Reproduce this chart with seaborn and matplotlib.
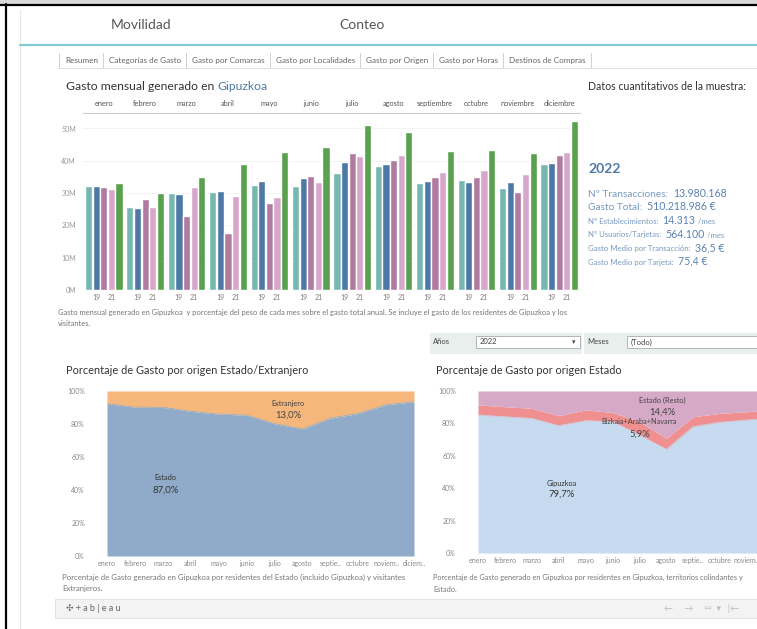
import numpy as np
import pandas as pd
import matplotlib
matplotlib.use("Agg")
import matplotlib.pyplot as plt
import seaborn as sns
from matplotlib.patches import Rectangle

# ---------------- data ----------------
months = ["enero", "febrero", "marzo", "abril", "mayo", "junio", "julio",
          "agosto", "septiembre", "octubre", "noviembre", "diciembre"]
months_short = ["enero", "febrero", "marzo", "abril", "mayo", "junio", "julio",
                "agosto", "septie..", "octubre", "noviem..", "diciem.."]
years = ["2018", "2019", "2020", "2021", "2022"]
year_ticks = {"2019": "19", "2021": "21"}

gasto_2018 = [32.2, 25.8, 30.1, 30.4, 32.5, 32.2, 36.3, 38.4, 33.2, 34.1, 31.7, 39.0]
gasto_2019 = [32.2, 25.5, 29.7, 30.6, 33.8, 34.8, 39.7, 38.9, 33.8, 33.5, 33.3, 39.2]
gasto_2020 = [31.8, 28.2, 22.9, 17.6, 26.8, 35.3, 42.3, 40.3, 35.1, 35.0, 30.4, 41.7]
gasto_2021 = [31.2, 25.6, 31.8, 29.1, 28.7, 33.3, 41.5, 41.8, 36.6, 37.2, 35.8, 42.7]
gasto_2022 = [33.0, 30.1, 35.1, 39.0, 42.6, 44.2, 51.1, 49.0, 43.1, 43.4, 42.3, 52.3]
gasto_series = [gasto_2018, gasto_2019, gasto_2020, gasto_2021, gasto_2022]

pct_estado = [92.3, 90.2, 90.1, 87.7, 86.0, 85.4, 80.2, 77.0, 83.5, 86.4, 91.7, 93.5]
pct_gipuzkoa = [85.2, 84.1, 83.1, 78.6, 81.7, 81.1, 72.8, 64.0, 78.0, 80.7, 82.1, 83.0]
pct_colindantes = [6.2, 6.2, 6.2, 6.2, 6.6, 5.7, 8.3, 6.8, 6.1, 5.5, 5.1, 5.5]

tabs = ["Resumen", "Categorías de Gasto", "Gasto por Comarcas", "Gasto por Localidades",
        "Gasto por Origen", "Gasto por Horas", "Destinos de Compras"]

# ---------------- setup ----------------
sns.set_theme(style="white")
plt.rcParams["font.family"] = ["Lato", "DejaVu Sans"]

W, H = 757, 629
fig = plt.figure(figsize=(W / 100, H / 100), dpi=100)
fig.patch.set_facecolor("white")

bg = fig.add_axes([0, 0, 1, 1])
bg.set_xlim(0, W)
bg.set_ylim(H, 0)
bg.axis("off")
bg.set_zorder(-10)


def px_axes(x0, y0, x1, y1):
    return fig.add_axes([x0 / W, 1 - y1 / H, (x1 - x0) / W, (y1 - y0) / H])


renderer = fig.canvas.get_renderer()


def pieces(x, y, parts):
    for s, size, color in parts:
        t = bg.text(x, y, s, size=size, color=color, va="baseline", ha="left")
        bb = t.get_window_extent(renderer)
        x += bb.width


# ---------------- frame / header ----------------
bg.add_patch(Rectangle((0, 0), W, 4, color="#d9d9d9", lw=0))
bg.plot([0, W], [4.5, 4.5], color="black", lw=1.6)
bg.plot([6, 6], [4, H], color="black", lw=1.6)
bg.plot([20, 20], [10, H], color="#e6e6e6", lw=0.8)
bg.text(141, 25, "Movilidad", size=10, color="#555555", ha="center", va="center")
bg.text(362, 25, "Conteo", size=10, color="#555555", ha="center", va="center")
bg.plot([20, W], [44.5, 44.5], color="#86cad6", lw=1.6)

# tabs
bg.plot([58, W], [67.5, 67.5], color="#e0e0e0", lw=0.7)
tab_x = 59
bg.plot([tab_x, tab_x], [53, 67], color="#d0d0d0", lw=0.7)
for name in tabs:
    t = bg.text(tab_x + 6, 60.5, name, size=5.9, color="#666666", va="center", ha="left")
    w = t.get_window_extent(renderer).width
    tab_x = tab_x + w + 11
    bg.plot([tab_x, tab_x], [53, 67], color="#d0d0d0", lw=0.7)

# ---------------- bar chart ----------------
bar_colors = ["#76b7b2", "#4e79a7", "#b07aa1", "#d7a7cb", "#59a14f"]
rows = []
for yr, vals in zip(years, gasto_series):
    for m, v in zip(months, vals):
        rows.append({"mes": m, "año": yr, "gasto": v})
df = pd.DataFrame(rows)

ax = px_axes(83, 113, 580, 290)
sns.barplot(data=df, x="mes", y="gasto", hue="año", order=months, hue_order=years,
            palette=bar_colors, width=0.92, gap=0.06, saturation=1, legend=False, ax=ax)
ax.set_xlim(-0.5, 11.5)
ax.set_ylim(0, 177 / 3.23)
ax.set_yticks([0, 10, 20, 30, 40, 50])
ax.set_yticklabels([f"{v}M" for v in [0, 10, 20, 30, 40, 50]])
bw = 0.92 / len(years)
tick_pos, tick_lab = [], []
for i in range(len(months)):
    for yr, lab in year_ticks.items():
        tick_pos.append(i + (years.index(yr) - 2) * bw)
        tick_lab.append(lab)
ax.set_xticks(tick_pos)
ax.set_xticklabels(tick_lab)
ax.set_xlabel("")
ax.set_ylabel("")
ax.tick_params(axis="both", length=0, labelsize=5, colors="#999999")
ax.tick_params(axis="x", colors="#887777")
ax.tick_params(axis="y", pad=5)
ax.tick_params(axis="x", pad=3)
for s in ["left", "right", "bottom"]:
    ax.spines[s].set_visible(False)
ax.spines["top"].set_color("#cccccc")
ax.spines["top"].set_linewidth(0.8)
ax.yaxis.grid(True, color="#f1f1f1", lw=0.6)
ax.set_axisbelow(True)
sec = ax.secondary_xaxis("top")
sec.set_xticks(range(len(months)))
sec.set_xticklabels(months)
sec.tick_params(length=0, labelsize=5.3, colors="#555555", pad=4)
for s in sec.spines.values():
    s.set_visible(False)

# title
t = bg.text(66, 87, "Gasto mensual generado en ", size=8.7, color="#333333", va="center")
wt = t.get_window_extent(renderer).width
bg.text(66 + wt, 87, "Gipuzkoa", size=8.7, color="#4e79a7", va="center")

bg.text(58, 312, "Gasto mensual generado en Gipuzkoa  y porcentaje del peso de cada mes sobre el gasto "
        "total anual. Se incluye el gasto de los residentes de Gipuzkoa y los",
        size=5.4, color="#777777", va="center")
bg.text(58, 323, "visitantes.", size=5.4, color="#777777", va="center")

# ---------------- stats panel ----------------
bg.text(588, 87, "Datos cuantitativos de la muestra:", size=7.6, color="#333333", va="center")
bg.text(588, 169, "2022", size=10, color="#4e79a7", va="center", weight="bold")
lab_c, val_c = "#7799c2", "#5b81b1"
pieces(588, 197, [("Nº Transacciones:  ", 7.3, lab_c), ("13.980.168", 7.6, val_c)])
pieces(588, 210.5, [("Gasto Total:  ", 7.3, lab_c), ("510.218.986 €", 7.6, val_c)])
pieces(588, 224, [("Nº Establecimientos:  ", 5.6, lab_c), ("14.313", 7.6, val_c), (" /mes", 5.6, lab_c)])
pieces(588, 237.5, [("Nº Usuarios/Tarjetas:  ", 5.6, lab_c), ("564.100", 7.6, val_c), (" /mes", 5.6, lab_c)])
pieces(588, 251, [("Gasto Medio por Transacción:  ", 5.6, lab_c), ("36,5 €", 7.6, val_c)])
pieces(588, 264.5, [("Gasto Medio por Tarjeta:  ", 5.6, lab_c), ("75,4 €", 7.6, val_c)])

# ---------------- filters ----------------
bg.add_patch(Rectangle((430, 333), 152, 21, color="#e8efec", lw=0))
bg.add_patch(Rectangle((584, 333), 173, 21, color="#e8efec", lw=0))
bg.text(433, 341, "Años", size=5.5, color="#444444", va="center")
bg.add_patch(Rectangle((476, 336), 104, 12, facecolor="white", edgecolor="#aaaaaa", lw=0.6))
bg.text(480, 342, "2022", size=5.5, color="#444444", va="center")
bg.text(574, 342, "▾", size=5, color="#444444", va="center", ha="center")
bg.text(587, 341, "Meses", size=5.5, color="#444444", va="center")
bg.add_patch(Rectangle((627, 336), 140, 12, facecolor="white", edgecolor="#aaaaaa", lw=0.6))
bg.text(631, 342, "(Todo)", size=5.5, color="#444444", va="center")

# ---------------- area chart left ----------------
pct_extranjero = [100 - v for v in pct_estado]
ax2 = px_axes(107, 391, 414, 556)
xs = np.arange(len(months))
ax2.stackplot(xs, pct_estado, pct_extranjero, colors=["#8fabc9", "#f5b77b"], lw=0)
sns.lineplot(x=xs, y=pct_estado, ax=ax2, color="#8fabc9", lw=0.5)
ax2.set_xlim(0, 11)
ax2.set_ylim(0, 100)
ax2.set_yticks([0, 20, 40, 60, 80, 100])
ax2.set_yticklabels([f"{v}%" for v in [0, 20, 40, 60, 80, 100]])
ax2.set_xticks(xs)
ax2.set_xticklabels(months_short)
ax2.tick_params(axis="both", length=0, labelsize=5, colors="#888888")
ax2.tick_params(axis="y", pad=16)
ax2.tick_params(axis="x", pad=3)
for s in ax2.spines.values():
    s.set_visible(False)
ax2.text(6.5, 92.7, "Extranjero", size=5.3, color="#444444", ha="center", va="center")
ax2.text(6.5, 85.5, "13,0%", size=6.8, color="#444444", ha="center", va="center")
ax2.text(2.1, 47.3, "Estado", size=5.3, color="#333333", ha="center", va="center")
ax2.text(2.1, 40.0, "87,0%", size=6.8, color="#333333", ha="center", va="center")
bg.text(66, 370, "Porcentaje de Gasto por origen Estado/Extranjero", size=7.9, color="#333333", va="center")
bg.text(62, 577, "Porcentaje de Gasto generado en Gipuzkoa por residentes del Estado (incluido Gipuzkoa) y visitantes",
        size=5.55, color="#777777", va="center")
bg.text(62, 589, "Extranjeros.", size=5.55, color="#777777", va="center")

# ---------------- area chart right ----------------
pct_resto = [100 - g - c for g, c in zip(pct_gipuzkoa, pct_colindantes)]
ax3 = px_axes(478, 391, 478 + 11 * 26.9, 553)
ax3.stackplot(xs, pct_gipuzkoa, pct_colindantes, pct_resto,
              colors=["#c6dbef", "#ef8f8f", "#d6a9c7"], lw=0)
sns.lineplot(x=xs, y=pct_gipuzkoa, ax=ax3, color="#c6dbef", lw=0.5)
ax3.set_xlim(0, 11)
ax3.set_ylim(0, 100)
ax3.set_yticks([0, 20, 40, 60, 80, 100])
ax3.set_yticklabels([f"{v}%" for v in [0, 20, 40, 60, 80, 100]])
ax3.set_xticks(xs[:11])
ax3.set_xticklabels(months_short[:11])
ax3.tick_params(axis="both", length=0, labelsize=5, colors="#888888")
ax3.tick_params(axis="y", pad=16)
ax3.tick_params(axis="x", pad=3)
for s in ax3.spines.values():
    s.set_visible(False)
ax3.text(6.84, 94.0, "Estado (Resto)", size=5.3, color="#444444", ha="center", va="center")
ax3.text(6.84, 87.0, "14,4%", size=6.8, color="#444444", ha="center", va="center")
ax3.text(6.0, 80.9, "Bizkaia+Araba+Navarra", size=5.3, color="#444444", ha="center", va="center")
ax3.text(6.0, 73.5, "5,9%", size=6.8, color="#444444", ha="center", va="center")
ax3.text(3.12, 43.2, "Gipuzkoa", size=5.3, color="#333333", ha="center", va="center")
ax3.text(3.12, 36.4, "79,7%", size=6.8, color="#333333", ha="center", va="center")
bg.text(436, 370, "Porcentaje de Gasto por origen Estado", size=7.8, color="#333333", va="center")
bg.text(433, 577, "Porcentaje de Gasto generado en Gipuzkoa por residentes en Gipuzkoa, territorios colindantes y",
        size=5.3, color="#777777", va="center")
bg.text(433, 589, "Estado.", size=5.3, color="#777777", va="center")

# ---------------- footer ----------------
bg.add_patch(Rectangle((55, 599), 710, 19, facecolor="#f3f3f3", edgecolor="#e0e0e0", lw=0.6))
bg.text(66, 608.5, "✣ + a b | e a u", size=6.5, color="#666666", va="center")
bg.text(664, 608.5, "←     →     ⇨  ▾   |←", size=6.5, color="#bbbbbb", va="center")

fig.savefig("out.png", dpi=100)
